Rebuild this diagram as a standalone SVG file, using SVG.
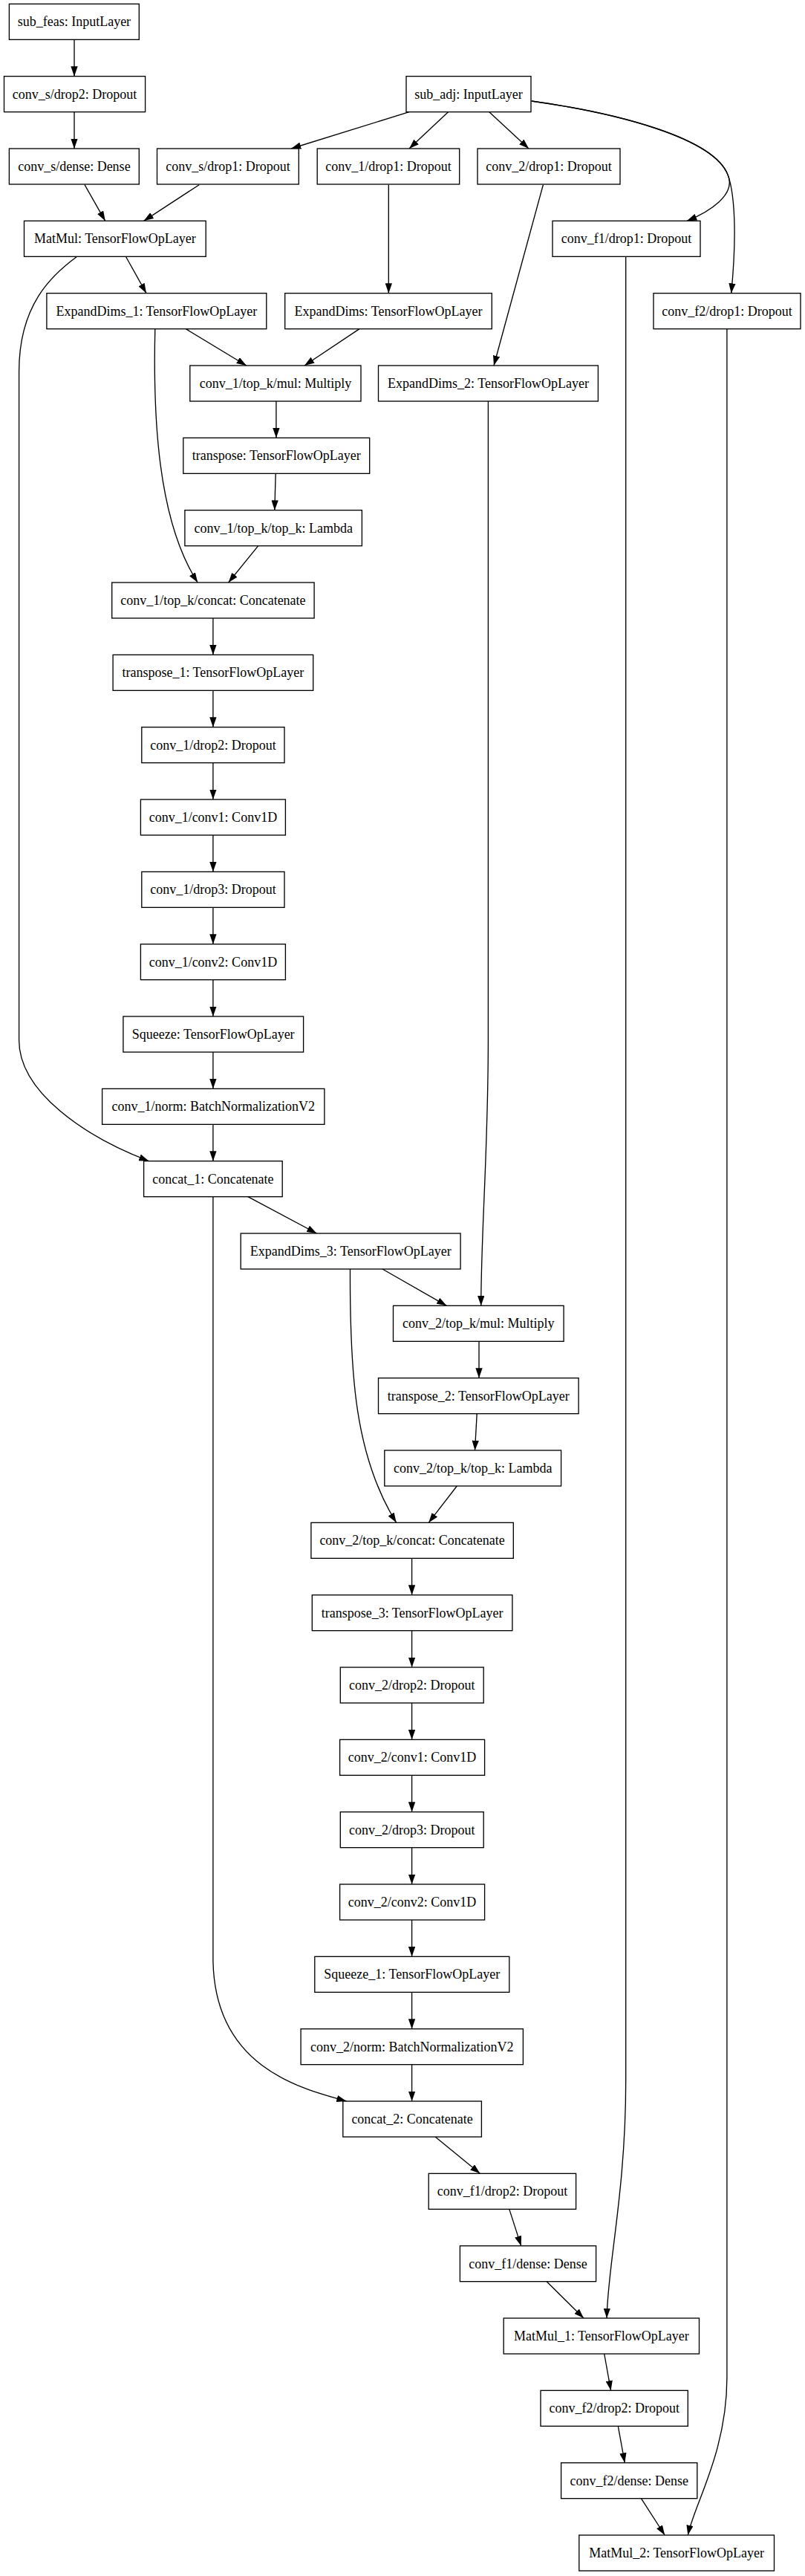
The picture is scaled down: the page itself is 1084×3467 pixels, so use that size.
<svg xmlns="http://www.w3.org/2000/svg" width="1084" height="3467" viewBox="0 0 1084 3467">
<style>
.n rect{fill:#fff;stroke:#000;stroke-width:1.33}
.n text{font-family:"Liberation Serif","Times New Roman",serif;font-size:18px;fill:#000;text-anchor:middle}
.e path{fill:none;stroke:#000;stroke-width:1.33;marker-end:url(#arr)}
</style>
<defs>
<marker id="arr" markerUnits="userSpaceOnUse" viewBox="0 0 13.33 9.33" refX="13.33" refY="4.67" markerWidth="13.33" markerHeight="9.33" orient="auto">
<path d="M0,0 L13.33,4.67 L0,9.33 z" fill="#000"/>
</marker>
</defs>
<rect x="0" y="0" width="1084" height="3467" fill="#fff"/>
<g id="edges" class="e">
<path d="M100,53.3 L100,102.67"/>
<path d="M100,150.67 L100,200"/>
<path d="M551,150.7 L392,200"/>
<path d="M603.5,150.7 L551,200"/>
<path d="M658.8,150.7 L712,200"/>
<path d="M715.7,136 C830,152 960,185 980,235 C992,262 955,285 925,297.3"/>
<path d="M715.7,136 C830,152 960,185 980,235 C990,262 992,320 984.7,394.67"/>
<path d="M114,248.7 L141.7,297.33"/>
<path d="M268.2,248.7 L193.6,297.33"/>
<path d="M523.3,248.7 L523.3,394.67"/>
<path d="M731.4,248.7 L665,492"/>
<path d="M103.7,345.3 C70,370 25.6,410 25.6,500 L25.6,1400 C25.6,1470 115,1530 200.5,1562.67"/>
<path d="M169.4,345.3 L197,394.67"/>
<path d="M250.3,442.67 L331.8,492"/>
<path d="M484,442.67 L410,492"/>
<path d="M208.8,442.67 C206,560 212,700 266.2,784"/>
<path d="M371.9,540 L371.9,589.33"/>
<path d="M371.2,637.33 L369.8,686.67"/>
<path d="M347.7,734.67 L307.6,784"/>
<path d="M286.9,832 L286.9,881.33"/>
<path d="M286.9,929.33 L286.9,978.67"/>
<path d="M286.9,1026.67 L286.9,1076"/>
<path d="M286.9,1124 L286.9,1173.33"/>
<path d="M286.9,1221.33 L286.9,1270.67"/>
<path d="M286.9,1318.67 L286.9,1368"/>
<path d="M286.9,1416 L286.9,1465.33"/>
<path d="M286.9,1513.33 L286.9,1562.67"/>
<path d="M333.9,1610.67 L426.5,1660"/>
<path d="M286.9,1610.67 L286.9,2640 C290,2780 400,2810 466.6,2828"/>
<path d="M515,1708 L601.4,1757.33"/>
<path d="M657.4,540 L657.4,1400 C657.4,1550 648,1650 647.7,1757.33"/>
<path d="M471.5,1708 C471,1850 478,1960 533.7,2049.33"/>
<path d="M645,1805.33 L645,1854.67"/>
<path d="M642.2,1902.67 L639.5,1952"/>
<path d="M615.3,2000 L577.2,2049.33"/>
<path d="M554.6,2097.33 L554.6,2146.67"/>
<path d="M554.6,2194.67 L554.6,2244"/>
<path d="M554.6,2292 L554.6,2341.33"/>
<path d="M554.6,2389.33 L554.6,2438.67"/>
<path d="M554.6,2486.67 L554.6,2536"/>
<path d="M554.6,2584 L554.6,2633.33"/>
<path d="M554.6,2681.33 L554.6,2730.67"/>
<path d="M554.6,2778.67 L554.6,2828"/>
<path d="M586.2,2876 L646.4,2925.33"/>
<path d="M685.8,2973.33 L701.7,3022.67"/>
<path d="M736.2,3070.67 L786,3120"/>
<path d="M842.7,345.33 L842.7,2800 C842.7,2950 818,3050 817.1,3120"/>
<path d="M813.7,3168 L822.6,3217.33"/>
<path d="M832.3,3265.33 L841.3,3314.67"/>
<path d="M863.4,3362.67 L895.2,3412"/>
<path d="M978.9,442.67 L978.9,3200 C978.9,3300 935,3370 926.3,3412"/>
</g>
<g id="sub_feas" class="n"><rect x="12.4" y="5.33" width="174.9" height="48"/><text x="99.9" y="35.33">sub_feas: InputLayer</text></g>
<g id="conv_s_drop2" class="n"><rect x="5.5" y="102.67" width="190.1" height="48"/><text x="100.6" y="132.67">conv_s/drop2: Dropout</text></g>
<g id="sub_adj" class="n"><rect x="547" y="102.67" width="168" height="48"/><text x="631" y="132.67">sub_adj: InputLayer</text></g>
<g id="conv_s_dense" class="n"><rect x="12.4" y="200" width="174.9" height="48"/><text x="99.9" y="230">conv_s/dense: Dense</text></g>
<g id="conv_s_drop1" class="n"><rect x="211.5" y="200" width="190.8" height="48"/><text x="306.9" y="230">conv_s/drop1: Dropout</text></g>
<g id="conv_1_drop1" class="n"><rect x="427.2" y="200" width="191.5" height="48"/><text x="523" y="230">conv_1/drop1: Dropout</text></g>
<g id="conv_2_drop1" class="n"><rect x="643" y="200" width="192" height="48"/><text x="739" y="230">conv_2/drop1: Dropout</text></g>
<g id="MatMul" class="n"><rect x="32.5" y="297.33" width="244.7" height="48"/><text x="154.9" y="327.33">MatMul: TensorFlowOpLayer</text></g>
<g id="conv_f1_drop1" class="n"><rect x="744" y="297.33" width="199" height="48"/><text x="843.5" y="327.33">conv_f1/drop1: Dropout</text></g>
<g id="ExpandDims_1" class="n"><rect x="62.9" y="394.67" width="295.9" height="48"/><text x="210.9" y="424.67">ExpandDims_1: TensorFlowOpLayer</text></g>
<g id="ExpandDims" class="n"><rect x="383.7" y="394.67" width="278.6" height="48"/><text x="523" y="424.67">ExpandDims: TensorFlowOpLayer</text></g>
<g id="conv_f2_drop1" class="n"><rect x="880" y="394.67" width="198" height="48"/><text x="979" y="424.67">conv_f2/drop1: Dropout</text></g>
<g id="conv_1_top_k_mul" class="n"><rect x="255.8" y="492" width="230.2" height="48"/><text x="370.9" y="522">conv_1/top_k/mul: Multiply</text></g>
<g id="ExpandDims_2" class="n"><rect x="509.5" y="492" width="295.9" height="48"/><text x="657.5" y="522">ExpandDims_2: TensorFlowOpLayer</text></g>
<g id="transpose" class="n"><rect x="246.8" y="589.33" width="250.9" height="48"/><text x="372.3" y="619.33">transpose: TensorFlowOpLayer</text></g>
<g id="conv_1_top_k_top_k" class="n"><rect x="248.9" y="686.67" width="238.5" height="48"/><text x="368.2" y="716.67">conv_1/top_k/top_k: Lambda</text></g>
<g id="conv_1_top_k_concat" class="n"><rect x="150.7" y="784" width="272.4" height="48"/><text x="286.9" y="814">conv_1/top_k/concat: Concatenate</text></g>
<g id="transpose_1" class="n"><rect x="152.1" y="881.33" width="269.6" height="48"/><text x="286.9" y="911.33">transpose_1: TensorFlowOpLayer</text></g>
<g id="conv_1_drop2" class="n"><rect x="190.8" y="978.67" width="192.2" height="48"/><text x="286.9" y="1008.67">conv_1/drop2: Dropout</text></g>
<g id="conv_1_conv1" class="n"><rect x="189.4" y="1076" width="195" height="48"/><text x="286.9" y="1106">conv_1/conv1: Conv1D</text></g>
<g id="conv_1_drop3" class="n"><rect x="190.8" y="1173.33" width="192.2" height="48"/><text x="286.9" y="1203.33">conv_1/drop3: Dropout</text></g>
<g id="conv_1_conv2" class="n"><rect x="189.4" y="1270.67" width="195" height="48"/><text x="286.9" y="1300.67">conv_1/conv2: Conv1D</text></g>
<g id="Squeeze" class="n"><rect x="165.9" y="1368" width="242.7" height="48"/><text x="287.2" y="1398">Squeeze: TensorFlowOpLayer</text></g>
<g id="conv_1_norm" class="n"><rect x="137.6" y="1465.33" width="299.3" height="48"/><text x="287.2" y="1495.33">conv_1/norm: BatchNormalizationV2</text></g>
<g id="concat_1" class="n"><rect x="193.6" y="1562.67" width="186.6" height="48"/><text x="286.9" y="1592.67">concat_1: Concatenate</text></g>
<g id="ExpandDims_3" class="n"><rect x="324.2" y="1660" width="295.9" height="48"/><text x="472.2" y="1690">ExpandDims_3: TensorFlowOpLayer</text></g>
<g id="conv_2_top_k_mul" class="n"><rect x="529.5" y="1757.33" width="229.6" height="48"/><text x="644.3" y="1787.33">conv_2/top_k/mul: Multiply</text></g>
<g id="transpose_2" class="n"><rect x="509.5" y="1854.67" width="269.6" height="48"/><text x="644.3" y="1884.67">transpose_2: TensorFlowOpLayer</text></g>
<g id="conv_2_top_k_top_k" class="n"><rect x="517.8" y="1952" width="237.8" height="48"/><text x="636.7" y="1982">conv_2/top_k/top_k: Lambda</text></g>
<g id="conv_2_top_k_concat" class="n"><rect x="418.9" y="2049.33" width="272.4" height="48"/><text x="555.1" y="2079.33">conv_2/top_k/concat: Concatenate</text></g>
<g id="transpose_3" class="n"><rect x="420.3" y="2146.67" width="269.6" height="48"/><text x="555.1" y="2176.67">transpose_3: TensorFlowOpLayer</text></g>
<g id="conv_2_drop2" class="n"><rect x="458.3" y="2244" width="192.9" height="48"/><text x="554.75" y="2274">conv_2/drop2: Dropout</text></g>
<g id="conv_2_conv1" class="n"><rect x="457.6" y="2341.33" width="195" height="48"/><text x="555.1" y="2371.33">conv_2/conv1: Conv1D</text></g>
<g id="conv_2_drop3" class="n"><rect x="458.3" y="2438.67" width="192.9" height="48"/><text x="554.75" y="2468.67">conv_2/drop3: Dropout</text></g>
<g id="conv_2_conv2" class="n"><rect x="457.6" y="2536" width="195" height="48"/><text x="555.1" y="2566">conv_2/conv2: Conv1D</text></g>
<g id="Squeeze_1" class="n"><rect x="423.8" y="2633.33" width="262" height="48"/><text x="554.8" y="2663.33">Squeeze_1: TensorFlowOpLayer</text></g>
<g id="conv_2_norm" class="n"><rect x="405.1" y="2730.67" width="299.3" height="48"/><text x="554.75" y="2760.67">conv_2/norm: BatchNormalizationV2</text></g>
<g id="concat_2" class="n"><rect x="461.8" y="2828" width="186.6" height="48"/><text x="555.1" y="2858">concat_2: Concatenate</text></g>
<g id="conv_f1_drop2" class="n"><rect x="577.2" y="2925.33" width="198.4" height="48"/><text x="676.4" y="2955.33">conv_f1/drop2: Dropout</text></g>
<g id="conv_f1_dense" class="n"><rect x="619.4" y="3022.67" width="183.2" height="48"/><text x="711" y="3052.67">conv_f1/dense: Dense</text></g>
<g id="MatMul_1" class="n"><rect x="678.2" y="3120" width="263.3" height="48"/><text x="809.85" y="3150">MatMul_1: TensorFlowOpLayer</text></g>
<g id="conv_f2_drop2" class="n"><rect x="728" y="3217.33" width="198.3" height="48"/><text x="827.15" y="3247.33">conv_f2/drop2: Dropout</text></g>
<g id="conv_f2_dense" class="n"><rect x="755.6" y="3314.67" width="183.2" height="48"/><text x="847.2" y="3344.67">conv_f2/dense: Dense</text></g>
<g id="MatMul_2" class="n"><rect x="779.8" y="3412" width="262.7" height="48"/><text x="911.15" y="3442">MatMul_2: TensorFlowOpLayer</text></g>
</svg>
